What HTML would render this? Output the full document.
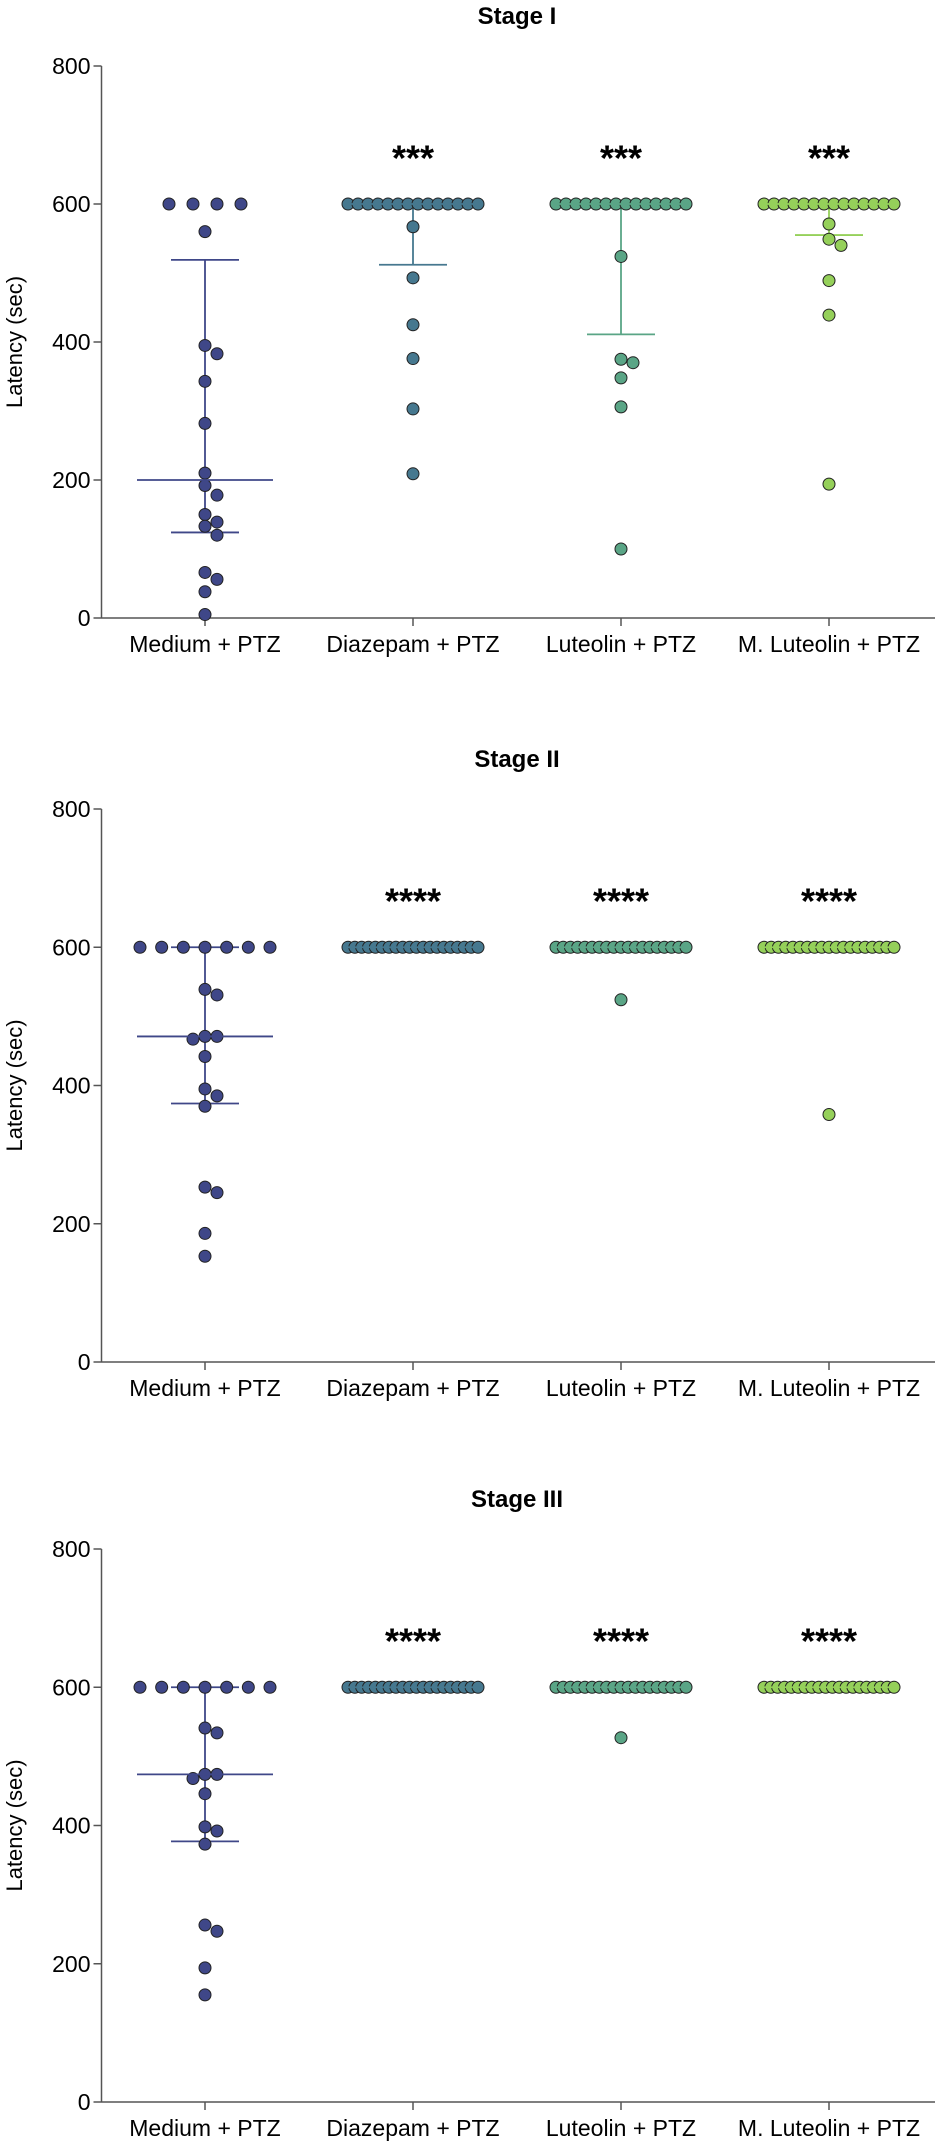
<!DOCTYPE html>
<html><head><meta charset="utf-8">
<style>
html,body{margin:0;padding:0;background:#fff;}
svg{display:block;font-family:"Liberation Sans",Arial,sans-serif;}
</style></head>
<body>
<svg id="chart" width="935" height="2142" viewBox="0 0 935 2142" xmlns="http://www.w3.org/2000/svg"></svg>
<script>
const categories = ["Medium + PTZ","Diazepam + PTZ","Luteolin + PTZ","M. Luteolin + PTZ"];
const stageTitles = ["Stage I","Stage II","Stage III"];
const yTicks = [0,200,400,600,800];
const colors = ["#3f4788","#46788f","#5aa586","#95d05a"];
// Stage I values
const s1Medium = [600,600,600,600,560,395,383,343,282,210,192,178,150,139,133,120,66,56,38,5];
const s1Diazepam = [600,600,600,600,600,600,600,600,600,600,600,600,600,600,567,493,425,376,303,209];
const s1Luteolin = [600,600,600,600,600,600,600,600,600,600,600,600,600,600,524,375,370,348,306,100];
const s1MLuteolin = [600,600,600,600,600,600,600,600,600,600,600,600,600,600,571,549,540,489,439,194];
// Stage II values
const s2Medium = [600,600,600,600,600,600,600,539,531,471,471,467,442,395,385,370,253,245,186,153];
const s2Diazepam = [600,600,600,600,600,600,600,600,600,600,600,600,600,600,600,600,600,600,600,600];
const s2Luteolin = [600,600,600,600,600,600,600,600,600,600,600,600,600,600,600,600,600,600,600,524];
const s2MLuteolin = [600,600,600,600,600,600,600,600,600,600,600,600,600,600,600,600,600,600,600,358];
// Stage III values
const s3Medium = [600,600,600,600,600,600,600,541,534,474,474,468,446,398,392,373,256,247,194,155];
const s3Diazepam = [600,600,600,600,600,600,600,600,600,600,600,600,600,600,600,600,600,600,600,600];
const s3Luteolin = [600,600,600,600,600,600,600,600,600,600,600,600,600,600,600,600,600,600,600,527];
const s3MLuteolin = [600,600,600,600,600,600,600,600,600,600,600,600,600,600,600,600,600,600,600,600];
// medians and quartiles per stage
const s1Median = [200,600,600,600], s1Q1 = [124,512,411,555], s1Q3 = [519,600,600,600];
const s2Median = [471,600,600,600], s2Q1 = [374,600,600,600], s2Q3 = [600,600,600,600];
const s3Median = [474,600,600,600], s3Q1 = [377,600,600,600], s3Q3 = [600,600,600,600];
const s1Stars = ["","***","***","***"];
const s2Stars = ["","****","****","****"];
const s3Stars = ["","****","****","****"];
const starValue = 675;

const stages = [
  {vals:[s1Medium,s1Diazepam,s1Luteolin,s1MLuteolin],med:s1Median,q1:s1Q1,q3:s1Q3,stars:s1Stars,top:66,bottom:618},
  {vals:[s2Medium,s2Diazepam,s2Luteolin,s2MLuteolin],med:s2Median,q1:s2Q1,q3:s2Q3,stars:s2Stars,top:809,bottom:1362},
  {vals:[s3Medium,s3Diazepam,s3Luteolin,s3MLuteolin],med:s3Median,q1:s3Q1,q3:s3Q3,stars:s3Stars,top:1549,bottom:2102}
];
const svg = document.getElementById('chart');
const NS = "http://www.w3.org/2000/svg";
function mk(tag, attrs, parent){const e=document.createElementNS(NS,tag);for(const k in attrs)e.setAttribute(k,attrs[k]);(parent||svg).appendChild(e);return e;}
const axisX = 101.5, axisEnd = 935;
function xPos(i){return 205 + i*208;}
const R = 6;

stages.forEach((st, si) => {
  const g = mk('g',{});
  
  
  const yS = v => st.bottom - (v/800)*(st.bottom-st.top);
  const t = mk('text',{x:517,y:st.top-42,'text-anchor':'middle','font-size':24,'font-weight':'bold',fill:'#000'},g);
  t.textContent = stageTitles[si];
  
  
  const ya = mk('line',{x1:axisX,y1:st.top,x2:axisX,y2:st.bottom,stroke:'#555','stroke-width':1.5},g);
  
  
  yTicks.forEach(v=>{
    mk('line',{x1:axisX-8,y1:yS(v),x2:axisX,y2:yS(v),stroke:'#555','stroke-width':1.5},g);
    const tl = mk('text',{x:axisX-11,y:yS(v)+8,'text-anchor':'end','font-size':23,fill:'#000'},g);
    tl.textContent = v;
    
    
  });
  const yt = mk('text',{x:0,y:0,'text-anchor':'middle','font-size':22,fill:'#000',transform:`translate(22,${(st.top+st.bottom)/2}) rotate(-90)`},g);
  yt.textContent = 'Latency (sec)';
  
  
  const xa = mk('line',{x1:axisX,y1:st.bottom,x2:axisEnd,y2:st.bottom,stroke:'#555','stroke-width':1.5},g);
  
  
  categories.forEach((c,i)=>{
    mk('line',{x1:xPos(i),y1:st.bottom,x2:xPos(i),y2:st.bottom+8,stroke:'#555','stroke-width':1.5},g);
    const xl = mk('text',{x:xPos(i),y:st.bottom+34,'text-anchor':'middle','font-size':23,fill:'#000'},g);
    xl.textContent = c;
    
    
  });
  st.vals.forEach((vals,i)=>{
    const cx = xPos(i), col = colors[i];
    const eg = mk('g',{},g);
    
    
    const placed=[];
    const counts={};
    vals.forEach(v=>{counts[v]=(counts[v]||0)+1;});
    const rowIdx={};
    const pts=[];
    vals.forEach(v=>{
      const y=yS(v);
      let x;
      if(counts[v]>=3){
        const n=counts[v];
        const sp=Math.min(24,130/(n-1));
        rowIdx[v]=(rowIdx[v]||0);
        x=cx-sp*(n-1)/2+sp*rowIdx[v];
        rowIdx[v]++;
      } else {
        const cands=[0,12,-12,24,-24,36,-36];
        for(const o of cands){
          const ok=placed.every(p=>Math.hypot(p[0]-(cx+o),p[1]-y)>=2*R-0.5);
          if(ok){x=cx+o;break;}
        }
        if(x===undefined)x=cx;
      }
      placed.push([x,y]);
      pts.push([x,y]);
    });
    const pg = mk('g',{},g);
    
    
    mk('line',{x1:cx,y1:yS(st.q1[i]),x2:cx,y2:yS(st.q3[i]),stroke:col,'stroke-width':1.8},eg);
    mk('line',{x1:cx-34,y1:yS(st.q1[i]),x2:cx+34,y2:yS(st.q1[i]),stroke:col,'stroke-width':1.8},eg);
    mk('line',{x1:cx-34,y1:yS(st.q3[i]),x2:cx+34,y2:yS(st.q3[i]),stroke:col,'stroke-width':1.8},eg);
    pts.forEach(p=>{
      const c = mk('circle',{cx:p[0],cy:p[1],r:R,fill:col,stroke:'#222','stroke-width':1},pg);
      
      
    });
    const ml = mk('line',{x1:cx-68,y1:yS(st.med[i]),x2:cx+68,y2:yS(st.med[i]),stroke:col,'stroke-width':1.8},g);
    
    
    if(st.stars[i]){
      const s = mk('text',{x:cx,y:yS(starValue)+18,'text-anchor':'middle','font-size':36,'font-weight':'bold',fill:'#000'},g);
      s.textContent = st.stars[i];
      
      
    }
  });
});
</script>
</body></html>
